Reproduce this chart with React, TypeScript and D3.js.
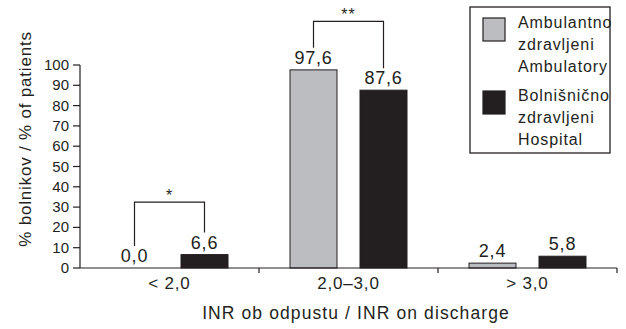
import React from "react";
import * as d3 from "d3";

const categories = ["< 2,0", "2,0–3,0", "> 3,0"];
const seriesNames = ["Ambulatory", "Hospital"];
const ambulatory = [0.0, 97.6, 2.4];
const hospital = [6.6, 87.6, 5.8];
const valueLabels = [["0,0", "97,6", "2,4"], ["6,6", "87,6", "5,8"]];
const yTicks = [0, 10, 20, 30, 40, 50, 60, 70, 80, 90, 100];
const legendLines = [
  ["Ambulantno", "zdravljeni", "Ambulatory"],
  ["Bolnišnično", "zdravljeni", "Hospital"],
];
const significance = [
  { cat: 0, top: 32.5, mark: "*" },
  { cat: 1, top: 121.5, mark: "**" },
];

const W = 626;
const H = 329;
const FONT = "'Liberation Sans', Arial, Helvetica, sans-serif";
const TXT = "#231f20";
const colors = ["#bcbdc1", "#231f20"];

export default function App() {
  const x = d3.scaleBand<string>().domain(categories).range([80, 617]).padding(0);
  const inner = d3
    .scaleBand<string>()
    .domain(seriesNames)
    .range([31, 148])
    .paddingInner(0.3286)
    .paddingOuter(0);
  const y = d3.scaleLinear().domain([0, 100]).range([268, 65]);
  const data = [ambulatory, hospital];
  const bw = inner.bandwidth();

  const barX = (si: number, ci: number) => (x(categories[ci]) as number) + (inner(seriesNames[si]) as number);
  const barCx = (si: number, ci: number) => barX(si, ci) + bw / 2;

  return (
    <svg width={W} height={H} style={{ position: "absolute", left: 0, top: 0, background: "#fff" }} fontFamily={FONT}>
      <rect x={0} y={0} width={W} height={H} fill="#fff" />
      {/* bars */}
      {data.map((vals, si) =>
        vals.map((v, ci) =>
          v > 0 ? (
            <rect
              key={`b${si}-${ci}`}
              x={barX(si, ci)}
              y={y(v)}
              width={bw}
              height={y(0) - y(v)}
              fill={colors[si]}
              stroke="#231f20"
              strokeWidth={1}
            />
          ) : null
        )
      )}
      {/* value labels */}
      {data.map((vals, si) =>
        vals.map((v, ci) => (
          <text
            key={`l${si}-${ci}`}
            x={barCx(si, ci)}
            y={y(v) - 6}
            textAnchor="middle"
            fontSize={18}
            fill={TXT}
            letterSpacing={0.8}
          >
            {valueLabels[si][ci]}
          </text>
        ))
      )}
      {/* significance brackets */}
      {significance.map((s, i) => {
        const x1 = barCx(0, s.cat);
        const x2 = barCx(1, s.cat);
        const yt = y(s.top);
        const y1 = y(data[0][s.cat]) - 6 - 16;
        const y2 = y(data[1][s.cat]) - 6 - 16;
        return (
          <g key={`s${i}`}>
            <path d={`M${x1},${y1}V${yt}H${x2}V${y2}`} fill="none" stroke={TXT} strokeWidth={1.2} />
            <text x={(x1 + x2) / 2} y={yt - 1} textAnchor="middle" fontSize={16} fill={TXT} letterSpacing={1}>
              {s.mark}
            </text>
          </g>
        );
      })}
      {/* y axis */}
      <line x1={80} x2={80} y1={y(100)} y2={y(0)} stroke={TXT} strokeWidth={1.2} />
      {yTicks.map((t) => (
        <g key={`t${t}`}>
          <line x1={73} x2={80} y1={y(t)} y2={y(t)} stroke={TXT} strokeWidth={1.2} />
          <text x={69} y={y(t) + 5} textAnchor="end" fontSize={15} fill={TXT}>
            {t}
          </text>
        </g>
      ))}
      {/* x axis */}
      <line x1={80} x2={617} y1={y(0)} y2={y(0)} stroke={TXT} strokeWidth={1.2} />
      {categories.map((c, ci) => (
        <g key={`c${ci}`}>
          <line
            x1={(x(c) as number) + x.bandwidth()}
            x2={(x(c) as number) + x.bandwidth()}
            y1={y(0)}
            y2={y(0) + 5}
            stroke={TXT}
            strokeWidth={1.2}
          />
          <text
            x={(x(c) as number) + x.bandwidth() / 2}
            y={289}
            textAnchor="middle"
            fontSize={17}
            fill={TXT}
            letterSpacing={0.8}
          >
            {c}
          </text>
        </g>
      ))}
      {/* axis titles */}
      <text x={356} y={319} textAnchor="middle" fontSize={17.5} fill={TXT} letterSpacing={1.1}>
        INR ob odpustu / INR on discharge
      </text>
      <text
        transform={`translate(31,139) rotate(-90)`}
        textAnchor="middle"
        fontSize={17}
        fill={TXT}
        letterSpacing={0.8}
      >
        % bolnikov / % of patients
      </text>
      {/* legend */}
      <rect x={470} y={7} width={140} height={146} fill="#fff" stroke={TXT} strokeWidth={1.3} />
      {legendLines.map((lines, si) => (
        <g key={`lg${si}`}>
          <rect
            x={483}
            y={18 + si * 73}
            width={22}
            height={23}
            fill={colors[si]}
            stroke={TXT}
            strokeWidth={1.2}
          />
          {lines.map((ln, li) => (
            <text key={li} x={518} y={28 + si * 73 + li * 22} fontSize={16} fill={TXT} letterSpacing={0.9}>
              {ln}
            </text>
          ))}
        </g>
      ))}
    </svg>
  );
}
